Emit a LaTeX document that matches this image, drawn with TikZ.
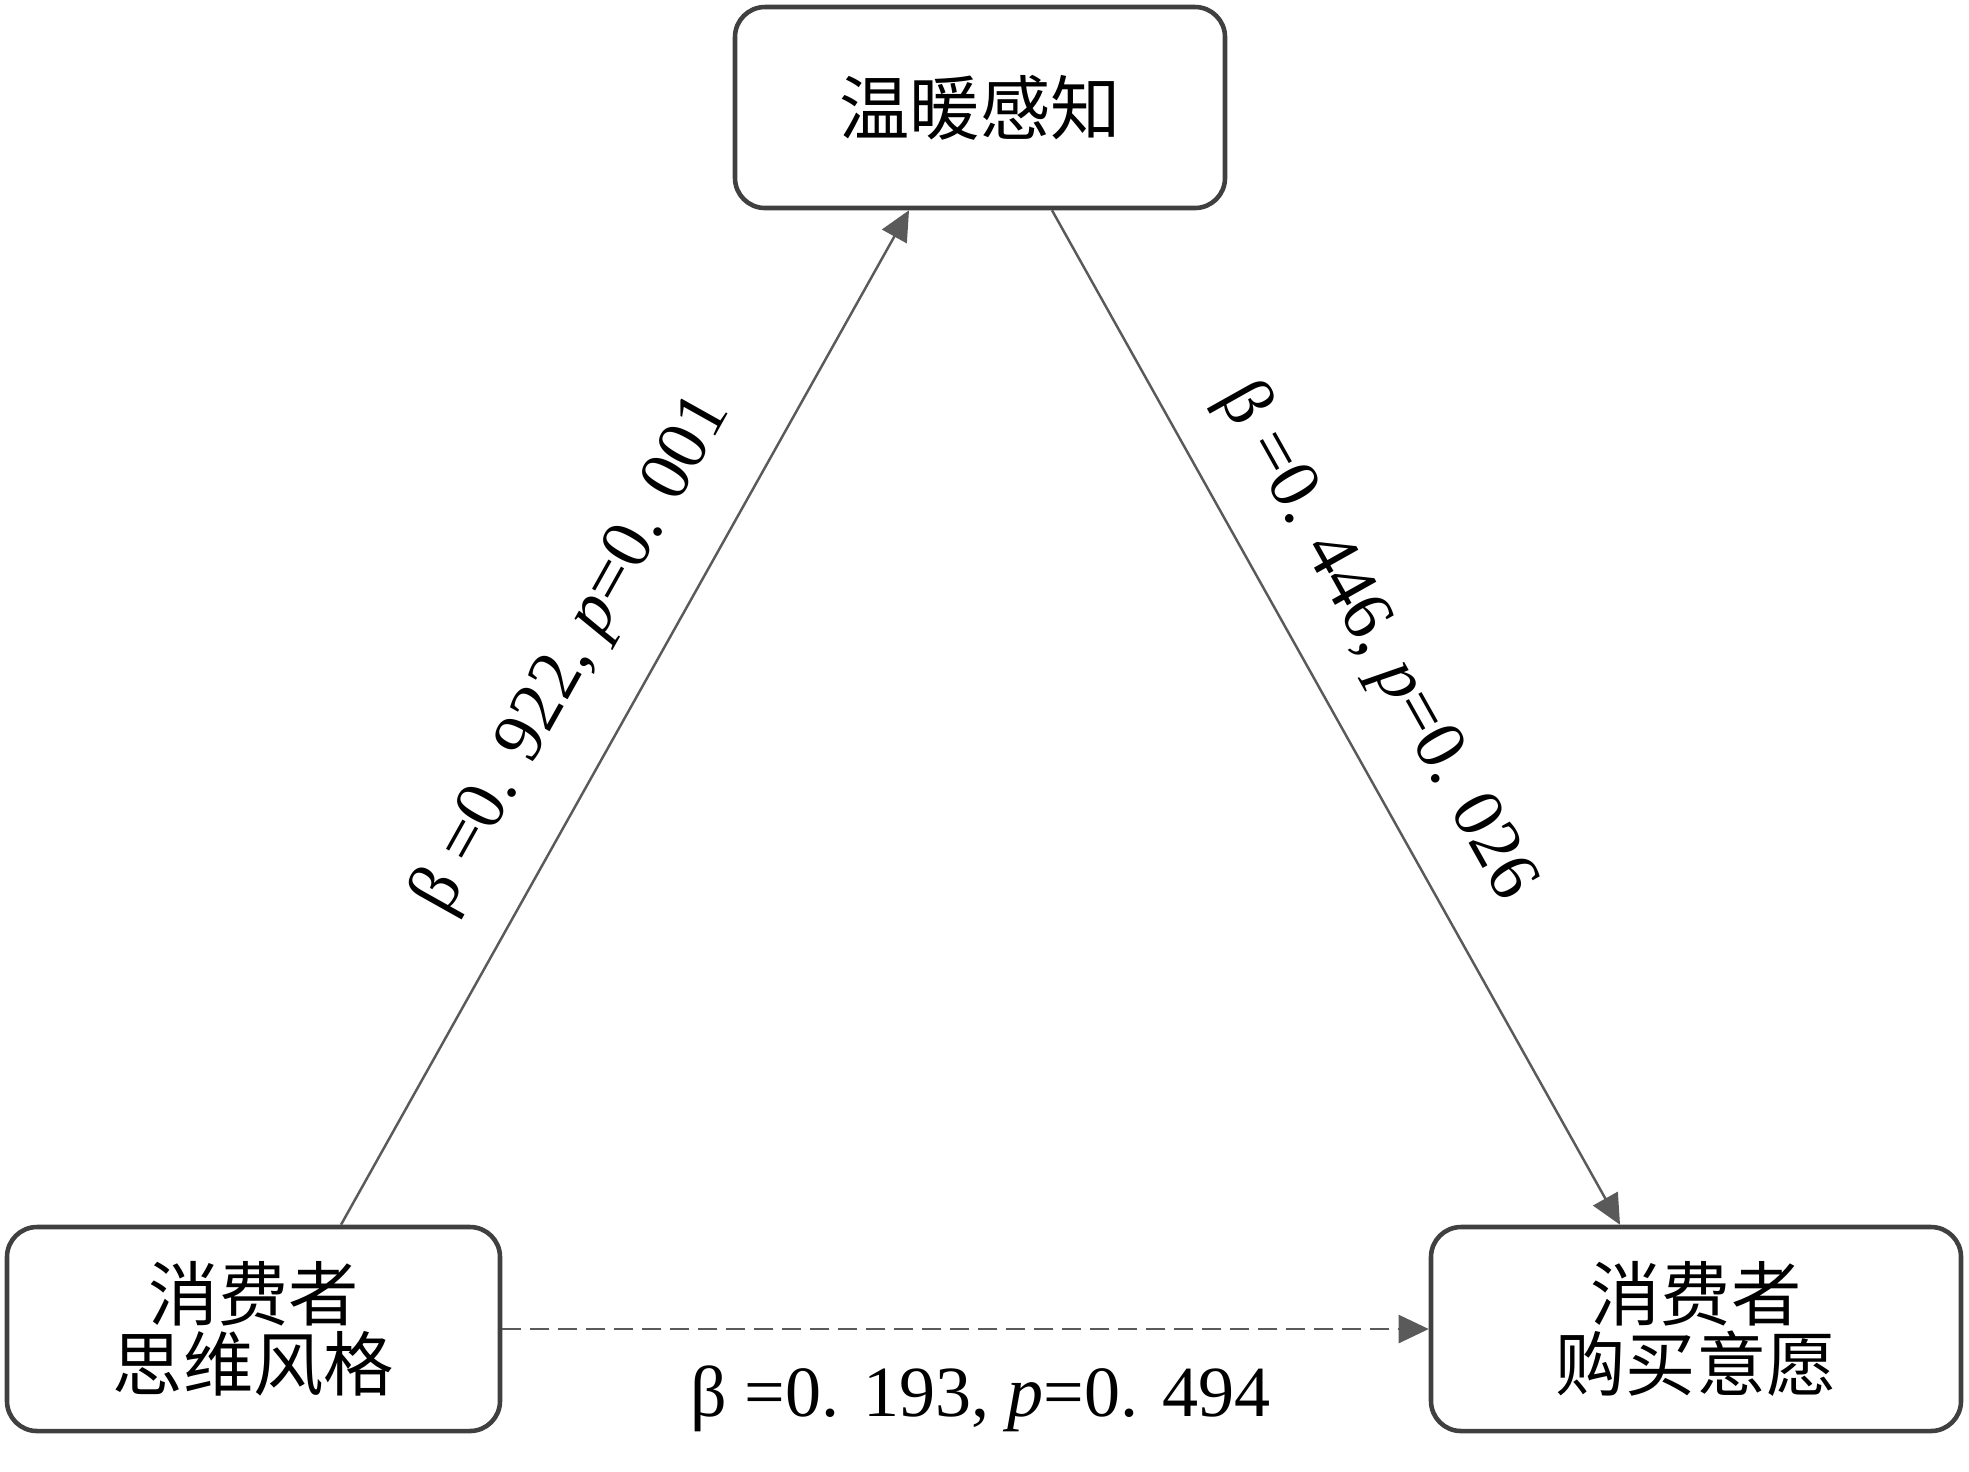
\documentclass[tikz,border=0pt]{standalone}
\usepackage{fontspec}
\setmainfont{Liberation Serif}
\newfontfamily\cjk{Noto Sans CJK SC}
\usetikzlibrary{arrows.meta}
\definecolor{boxline}{HTML}{404040}
\definecolor{arrline}{HTML}{5A5A5A}
\begin{document}
\begin{tikzpicture}[x=1cm,y=1cm,
  box/.style={draw=boxline, line width=1.3pt, rounded corners=0.3cm, align=center,
    font=\cjk\fontsize{20pt}{20pt}\selectfont, inner sep=0pt},
  arr/.style={draw=arrline, line width=0.7pt, -{Triangle[length=0.3cm,width=0.28cm]}},
  lbl/.style={font=\fontsize{20.5pt}{22pt}\selectfont, inner sep=0pt}]
\useasboundingbox (0,0) rectangle (19.69,-14.71);
\node[box, minimum width=4.9cm, minimum height=2.01cm] (T) at (9.80,-1.075) {温暖感知};
\node[box, minimum width=4.93cm, minimum height=2.04cm] (L) at (2.535,-13.29) {消费者\\思维风格};
\node[box, minimum width=5.30cm, minimum height=2.04cm] (R) at (16.96,-13.29) {消费者\\购买意愿};
\draw[arr] ([xshift=0.875cm]L.north) -- node[lbl, sloped, pos=0.525, above=0.42cm] {β =0. 922, \textit{p}=0. 001} ([xshift=-0.71cm]T.south);
\draw[arr] ([xshift=0.72cm]T.south) -- node[lbl, sloped, pos=0.46, above=0.375cm] {β =0. 446, \textit{p}=0. 026} ([xshift=-0.76cm]R.north);
\draw[arr, dash pattern=on 0.19cm off 0.09cm] (L.east) -- node[lbl, pos=0.516, anchor=base, yshift=-0.87cm] {β =0. 193, \textit{p}=0. 494} (R.west);
\end{tikzpicture}
\end{document}
